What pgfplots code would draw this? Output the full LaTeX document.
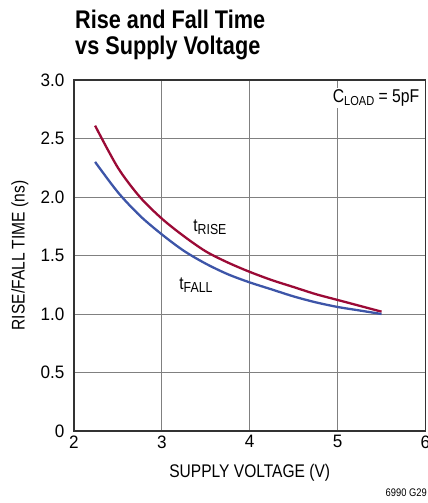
\documentclass[border=0pt]{standalone}
\usepackage{pgfplots}
\pgfplotsset{compat=1.18}
\usepackage{fontspec}
\setmainfont{Liberation Sans}[FakeStretch=0.85]
\newfontfamily\tickfont{Liberation Sans}[FakeStretch=0.95]
\definecolor{risecol}{HTML}{9B0A36}
\definecolor{fallcol}{HTML}{3D55A8}
\pgfplotstableread{
v t
2.24 2.61
2.50 2.25
2.75 2.00
3.00 1.815
3.25 1.665
3.50 1.535
3.75 1.44
4.00 1.36
4.25 1.29
4.50 1.23
4.75 1.17
5.00 1.12
5.25 1.07
5.50 1.02
}\risedata
\pgfplotstableread{
v t
2.24 2.30
2.50 2.04
2.75 1.84
3.00 1.68
3.25 1.54
3.50 1.43
3.75 1.34
4.00 1.27
4.25 1.21
4.50 1.15
4.75 1.10
5.00 1.06
5.25 1.03
5.50 1.00
}\falldata
\begin{document}
\begin{tikzpicture}
\begin{axis}[name=ax, scale only axis, width=351.5pt, height=351pt,
  xmin=2, xmax=6, ymin=0, ymax=3,
  xtick={2,3,4,5,6}, xticklabels={2,3,4,5,6},
  ytick={0,0.5,1,1.5,2,2.5,3}, yticklabels={0,0.5,1.0,1.5,2.0,2.5,3.0},
  grid=major, major grid style={black!50, line width=0.8pt},
  axis line style={black!80, line width=1.3pt},
  major tick length=0pt,
  tick label style={font=\tickfont\fontsize{18}{18}\selectfont},
  xticklabel style={yshift=-1pt},
  yticklabel style={xshift=-6pt},
  label style={font=\fontsize{18.3}{18.3}\selectfont},
  xlabel={SUPPLY VOLTAGE (V)}, ylabel={RISE/FALL TIME (ns)},
  xlabel style={at={(axis description cs:0.5,-0.119)}, anchor=center},
  ylabel style={at={(axis description cs:-0.1536,0.5)}, anchor=center},
  clip=false]
\addplot[risecol, line width=2.3pt, smooth] table[x=v,y=t] {\risedata};
\addplot[fallcol, line width=2.3pt, smooth] table[x=v,y=t] {\falldata};
\node[anchor=base west, inner sep=0pt, font=\fontsize{18}{18}\selectfont] at (axis cs:3.357,1.703) {t\raisebox{-3pt}{\fontsize{14.5}{14.5}\selectfont RISE}};
\node[anchor=base west, inner sep=0pt, font=\fontsize{18}{18}\selectfont] at (axis cs:3.198,1.211) {t\raisebox{-3pt}{\fontsize{14.5}{14.5}\selectfont FALL}};
\node[anchor=base east, fill=white, inner sep=1.5pt, font=\fontsize{18.5}{18.5}\selectfont] at ([xshift=-4.5pt,yshift=-22.7pt]rel axis cs:1,1) {C\raisebox{-2.7pt}{\fontsize{13}{13}\selectfont LOAD} = 5pF};
\end{axis}
\node[anchor=base west, inner sep=0pt, font=\bfseries\fontsize{25.5}{25.5}\selectfont] at ([xshift=1pt,yshift=51.5pt]ax.north west) {Rise and Fall Time};
\node[anchor=base west, inner sep=0pt, font=\bfseries\fontsize{25.5}{25.5}\selectfont] at ([xshift=1pt,yshift=25pt]ax.north west) {vs Supply Voltage};
\node[anchor=base east, inner sep=0pt, font=\fontsize{11}{11}\selectfont] at ([xshift=1.5pt,yshift=-65pt]ax.south east) {6990 G29};
\pgfresetboundingbox
\useasboundingbox ([xshift=-74pt,yshift=-72pt]ax.south west) rectangle ++(428pt,503pt);
\end{tikzpicture}
\end{document}
